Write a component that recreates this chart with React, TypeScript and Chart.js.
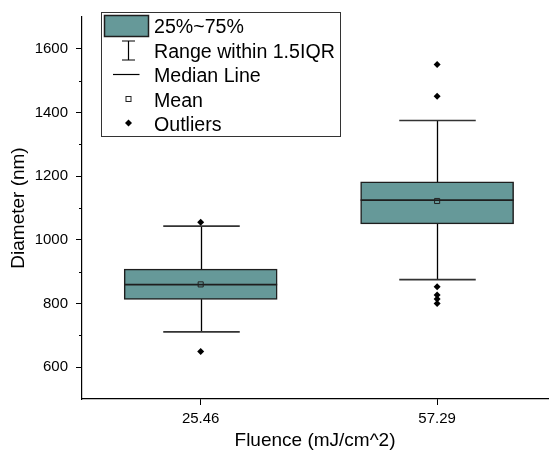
import React, { useEffect, useRef } from 'react';
import { Chart, registerables } from 'chart.js';

Chart.register(...registerables);

// ---- data ----
const categories = ['25.46', '57.29'];
const q1Values = [813, 1050];
const medianValues = [859, 1125];
const q3Values = [908, 1182];
const whiskerLow = [711, 875];
const whiskerHigh = [1043, 1375];
const meanValues = [860, 1122];
const outlierValues = [
  [1055, 649],
  [1551, 1451, 853, 827, 814, 800],
];
const yMajorTicks = [600, 800, 1000, 1200, 1400, 1600];
const yMinorTicks = [700, 900, 1100, 1300, 1500];
const legendLabels = ['25%~75%', 'Range within 1.5IQR', 'Median Line', 'Mean', 'Outliers'];
const xTitle = 'Fluence (mJ/cm^2)';
const yTitle = 'Diameter (nm)';

// ---- style ----
const FONT = "'Liberation Sans', Arial, Helvetica, sans-serif";
const BOX_FILL = '#669999';
const DARK = '#1e1e1e';

const boxExtras = {
  id: 'boxExtras',
  afterDatasetDraw(chart: any, args: any) {
    if (args.index !== 0) return;
    const ctx = chart.ctx;
    const y = chart.scales.y;
    args.meta.data.forEach((bar: any, i: number) => {
      const cx = Math.round(bar.x) + 0.5;
      const half = bar.width / 2;
      const capHalf = half / 2;
      const pHi = y.getPixelForValue(whiskerHigh[i]);
      const pQ3 = y.getPixelForValue(q3Values[i]);
      const pQ1 = y.getPixelForValue(q1Values[i]);
      const pLo = y.getPixelForValue(whiskerLow[i]);
      const pMed = y.getPixelForValue(medianValues[i]);
      ctx.save();
      ctx.strokeStyle = '#000';
      ctx.lineWidth = 1.3;
      ctx.beginPath();
      ctx.moveTo(cx, pQ3);
      ctx.lineTo(cx, pHi);
      ctx.moveTo(cx, pQ1);
      ctx.lineTo(cx, pLo);
      ctx.stroke();
      ctx.strokeStyle = '#333';
      ctx.lineWidth = 1.6;
      ctx.beginPath();
      ctx.moveTo(cx - capHalf, pHi);
      ctx.lineTo(cx + capHalf, pHi);
      ctx.moveTo(cx - capHalf, pLo);
      ctx.lineTo(cx + capHalf, pLo);
      ctx.stroke();
      ctx.strokeStyle = DARK;
      ctx.lineWidth = 1.8;
      ctx.beginPath();
      ctx.moveTo(bar.x - half, pMed);
      ctx.lineTo(bar.x + half, pMed);
      ctx.stroke();
      ctx.restore();
    });
  },
  afterDraw(chart: any) {
    const ctx = chart.ctx;
    const y = chart.scales.y;
    const left = chart.chartArea.left;
    ctx.save();
    ctx.strokeStyle = '#000';
    ctx.lineWidth = 1;
    ctx.beginPath();
    yMinorTicks.forEach((v) => {
      const p = Math.round(y.getPixelForValue(v)) + 0.5;
      ctx.moveTo(left - 3, p);
      ctx.lineTo(left, p);
    });
    ctx.stroke();

    // legend
    const lx = 101.5, ly = 12.5, lw = 239, lh = 124;
    ctx.fillStyle = '#fff';
    ctx.fillRect(lx, ly, lw, lh);
    ctx.strokeStyle = '#333';
    ctx.lineWidth = 1;
    ctx.strokeRect(lx, ly, lw, lh);
    const symX = 128.5;
    const textX = 154;
    const baselines = [33, 58, 82, 107, 131];
    // patch
    ctx.fillStyle = BOX_FILL;
    ctx.fillRect(104.5, 15.5, 44, 21);
    ctx.strokeStyle = DARK;
    ctx.lineWidth = 1.5;
    ctx.strokeRect(104.5, 15.5, 44, 21);
    // I-beam
    ctx.strokeStyle = '#000';
    ctx.lineWidth = 1.2;
    ctx.beginPath();
    ctx.moveTo(symX, 41);
    ctx.lineTo(symX, 60);
    ctx.moveTo(symX - 6.5, 41);
    ctx.lineTo(symX + 6.5, 41);
    ctx.moveTo(symX - 6.5, 60);
    ctx.lineTo(symX + 6.5, 60);
    ctx.stroke();
    // median line
    ctx.beginPath();
    ctx.moveTo(113, 74.5);
    ctx.lineTo(139.5, 74.5);
    ctx.stroke();
    // mean square
    ctx.lineWidth = 1;
    ctx.strokeStyle = '#222';
    ctx.strokeRect(symX - 2.5, 96.5, 5, 5);
    // outlier diamond
    ctx.fillStyle = '#000';
    ctx.beginPath();
    ctx.moveTo(symX, 119.5);
    ctx.lineTo(symX + 3.5, 123);
    ctx.lineTo(symX, 126.5);
    ctx.lineTo(symX - 3.5, 123);
    ctx.closePath();
    ctx.fill();
    // texts
    ctx.fillStyle = '#000';
    ctx.font = `19.6px ${FONT}`;
    ctx.textAlign = 'left';
    ctx.textBaseline = 'alphabetic';
    legendLabels.forEach((t, i) => ctx.fillText(t, textX, baselines[i]));
    ctx.restore();
  },
};

export default function App() {
  const ref = useRef<HTMLCanvasElement | null>(null);
  useEffect(() => {
    if (!ref.current) return;
    const outlierPoints: { x: number; y: number }[] = [];
    outlierValues.forEach((arr, i) => arr.forEach((v) => outlierPoints.push({ x: i, y: v })));
    const chart = new Chart(ref.current, {
      type: 'bar',
      data: {
        datasets: [
          {
            type: 'bar',
            label: legendLabels[0],
            data: categories.map((_, i) => ({ x: i, y: [q1Values[i], q3Values[i]] })) as any,
            backgroundColor: BOX_FILL,
            borderColor: DARK,
            borderWidth: 1.5,
            borderSkipped: false,
            barThickness: 153,
            grouped: false,
            order: 3,
          } as any,
          {
            type: 'scatter',
            label: legendLabels[3],
            data: categories.map((_, i) => ({ x: i, y: meanValues[i] })),
            pointStyle: 'rect',
            pointRadius: 3.6,
            backgroundColor: 'rgba(0,0,0,0)',
            borderColor: '#222',
            borderWidth: 1,
            order: 1,
          } as any,
          {
            type: 'scatter',
            label: legendLabels[4],
            data: outlierPoints,
            pointStyle: 'rectRot',
            pointRadius: 3.5,
            backgroundColor: '#000',
            borderColor: '#000',
            borderWidth: 0,
            order: 1,
          } as any,
        ],
      },
      options: {
        animation: false,
        responsive: false,
        maintainAspectRatio: false,
        layout: { padding: { top: 17, left: 0, right: 0, bottom: 0 } },
        plugins: { legend: { display: false }, tooltip: { enabled: false } },
        scales: {
          x: {
            type: 'linear',
            offset: false,
            min: -0.502,
            max: 1.469,
            afterBuildTicks: (s: any) => {
              s.ticks = categories.map((_, i) => ({ value: i }));
            },
            afterFit: (s: any) => {
              s.height = 59;
            },
            ticks: {
              callback: (v: any) => categories[v] ?? '',
              font: { family: FONT, size: 15 },
              color: '#000',
              padding: 5,
              maxRotation: 0,
              autoSkip: false,
            },
            grid: { display: true, offset: false, drawOnChartArea: false, drawTicks: true, tickLength: 6, tickColor: '#000', tickWidth: 1 },
            border: { display: true, color: '#000', width: 1.2 },
            title: { display: true, text: xTitle, font: { family: FONT, size: 19 }, color: '#000', padding: { top: 0, bottom: 5.5 } },
          },
          y: {
            type: 'linear',
            min: 500,
            max: 1700,
            afterBuildTicks: (s: any) => {
              s.ticks = yMajorTicks.map((v) => ({ value: v }));
            },
            afterFit: (s: any) => {
              s.width = 82;
            },
            ticks: { callback: (v: any) => String(v), font: { family: FONT, size: 15 }, color: '#000', padding: 8 },
            grid: { display: true, drawOnChartArea: false, drawTicks: true, tickLength: 6, tickColor: '#000', tickWidth: 1 },
            border: { display: true, color: '#000', width: 1.2 },
            title: { display: true, text: yTitle, font: { family: FONT, size: 19 }, color: '#000', padding: { top: 7.5, bottom: 0 } },
          },
        },
      } as any,
      plugins: [boxExtras],
    });
    return () => chart.destroy();
  }, []);
  return (
    <div style={{ position: 'fixed', left: 0, top: 0, width: 553, height: 458, background: '#fff' }}>
      <canvas ref={ref} width={553} height={458} style={{ display: 'block' }} />
    </div>
  );
}
